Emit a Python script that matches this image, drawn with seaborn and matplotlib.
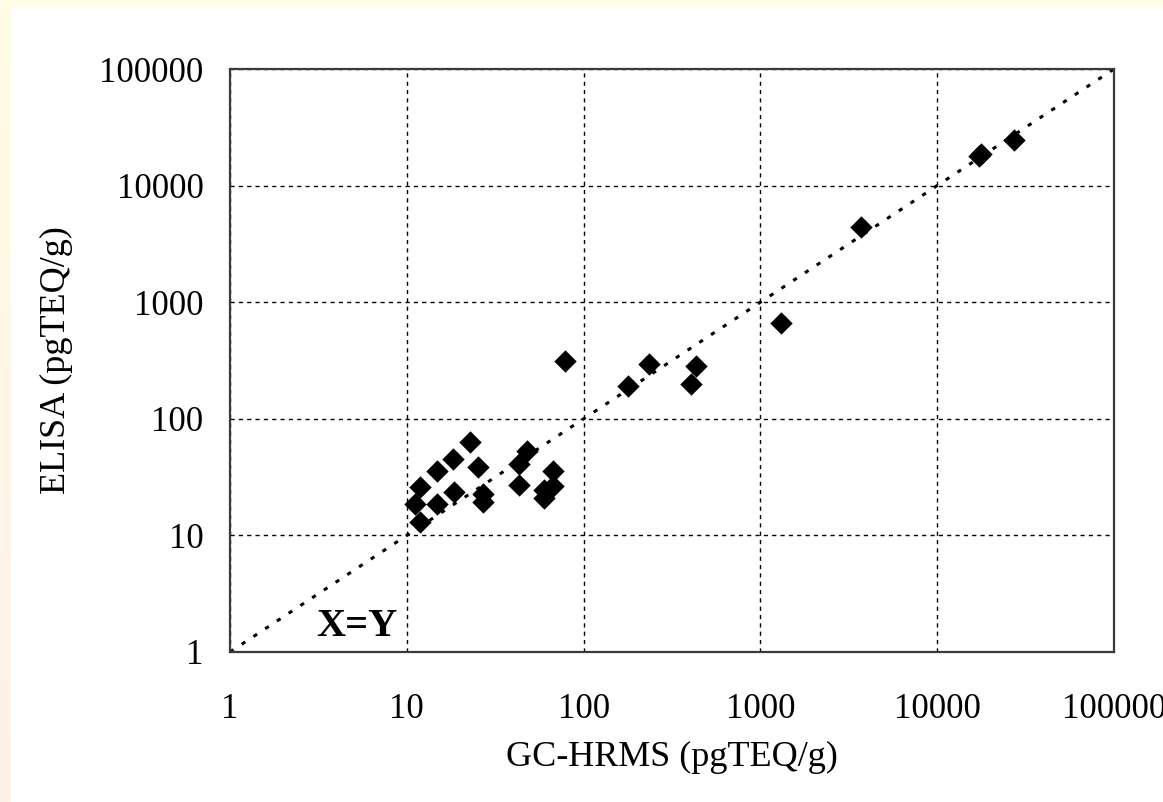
import matplotlib
matplotlib.use("Agg")
import matplotlib.pyplot as plt
from matplotlib.colors import LinearSegmentedColormap
import seaborn as sns
import numpy as np
import pandas as pd

# values (pg TEQ/g)
gc_hrms = [78, 22.8, 18.3, 14.9, 11.9, 11.1, 11.9, 14.8, 18.5, 25.2, 26.9, 26.9,
           47.7, 43.3, 43.3, 67.4, 67.4, 59.9, 59.9,
           179, 234, 430, 407, 1300, 3700, 17750, 17300, 27200]
elisa = [313, 63.6, 45, 35.7, 26.2, 18.5, 13.1, 18.5, 23.4, 38.4, 22.6, 19.2,
         53.3, 40.7, 27.1, 35.7, 26.5, 24.5, 21.1,
         191, 297, 282, 200, 664, 4390, 18700, 17800, 24400]
line_ends = [1, 100000]
ticks = [1, 10, 100, 1000, 10000, 100000]
tick_labels = ["1", "10", "100", "1000", "10000", "100000"]

df = pd.DataFrame({"gc": gc_hrms, "elisa": elisa})

sns.set_theme(style="white")
plt.rcParams["font.family"] = ["Liberation Serif", "DejaVu Serif"]

fig = plt.figure(figsize=(11.63, 8.02), dpi=100)
fig.patch.set_facecolor("white")

# pale border strip on the left and top, like the slide background
cmap = LinearSegmentedColormap.from_list("edge", ["#fffde6", "#fff0e8"])
grad = np.linspace(0, 1, 256).reshape(-1, 1)
bg = fig.add_axes([0, 0, 11 / 1163, 1], zorder=-5)
bg.imshow(grad, aspect="auto", cmap=cmap, extent=[0, 1, 0, 1])
bg.axis("off")
top = fig.add_axes([0, 1 - 8 / 802, 1, 8 / 802], zorder=-5)
top.axis("off")
top.add_patch(plt.Rectangle((0, 0), 1, 1, color="#fffde6", transform=top.transAxes))

ax = fig.add_axes([230 / 1163, 1 - 652 / 802, (1114 - 230) / 1163, (652 - 69) / 802])
ax.set_xscale("log")
ax.set_yscale("log")

sns.lineplot(x=line_ends, y=line_ends, ax=ax, color="black", lw=2.2,
             linestyle=(0, (1.4, 3.2)), zorder=2)
sns.scatterplot(data=df, x="gc", y="elisa", ax=ax, marker="D", s=130,
                color="black", edgecolor="black", linewidth=0, zorder=3)

ax.set_xlim(1, 100000)
ax.set_ylim(1, 100000)
ax.set_xticks(ticks)
ax.set_xticklabels(tick_labels)
ax.set_yticks(ticks)
ax.set_yticklabels(tick_labels)
ax.minorticks_off()

ax.grid(True, which="major", color="black", linestyle=(0, (3, 3)), lw=1.0)
for s in ax.spines.values():
    s.set_color("#3a3a3a")
    s.set_linewidth(1.6)
ax.tick_params(axis="both", which="major", direction="out", length=12, width=1.5,
               color="#3a3a3a", labelsize=25, labelcolor="black")
ax.tick_params(axis="x", pad=17.5)
ax.tick_params(axis="y", pad=7)

ax.set_xlabel("GC-HRMS (pgTEQ/g)", fontsize=26, labelpad=11, color="black")
ax.set_ylabel("ELISA (pgTEQ/g)", fontsize=26, labelpad=19, color="black")

ax.text(5.2, 1.64, "X=Y", fontsize=29, fontweight="bold", ha="center", va="center",
        color="black")

fig.savefig("out.png", dpi=100)
